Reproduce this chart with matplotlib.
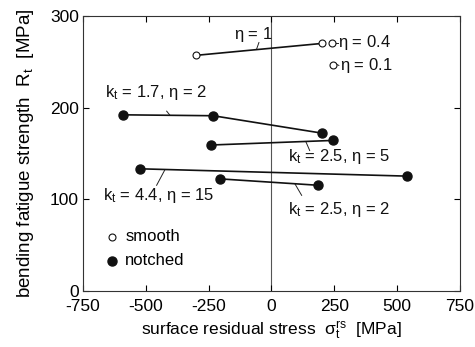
import numpy as np
import matplotlib
matplotlib.use("Agg")
import matplotlib.pyplot as plt

plt.rcParams['font.family'] = ['Liberation Sans', 'DejaVu Sans']
plt.rcParams['mathtext.default'] = 'regular'
plt.rcParams['axes.unicode_minus'] = False

# smooth specimens (open circles)
eta1_x = [-300, 200]
eta1_y = [257, 270]
eta04_x = [240]
eta04_y = [270]
eta01_x = [243]
eta01_y = [246]

# notched specimens (filled circles)
k17_x = [-590, -232, 200]
k17_y = [192, 191, 172]
k25e5_x = [-241, 243]
k25e5_y = [159, 164]
k44_x = [-523, 540]
k44_y = [133, 125]
k25e2_x = [-205, 186]
k25e2_y = [122, 115]

xticks = [-750, -500, -250, 0, 250, 500, 750]
yticks = [0, 100, 200, 300]

# label text, text anchor (left, centre), leader line x's and y's
labels = [
    (r'$\eta$ = 1', -148, 279.5, (-50, -59), (271, 264)),
    (r'$\eta$ = 0.4', 265, 270.5, (250, 263), (270, 270)),
    (r'$\eta$ = 0.1', 273, 245.5, (252, 268), (248, 246)),
    (r'k$_t$ = 1.7, $\eta$ = 2', -662, 216, (-417, -404), (196, 191.5)),
    (r'k$_t$ = 2.5, $\eta$ = 5', 64, 146.5, (137, 152), (162.5, 153)),
    (r'k$_t$ = 4.4, $\eta$ = 15', -672, 103.5, (-457, -424), (115, 132)),
    (r'k$_t$ = 2.5, $\eta$ = 2', 64, 88, (93, 120), (116.7, 104)),
]

fig = plt.figure(figsize=(4.75, 3.47), dpi=100)
ax = fig.add_axes([0.1747, 0.1628, 0.7937, 0.7911])

ax.axvline(0, color='#555555', lw=0.8, zorder=1)

lc = '#111111'
ax.plot(eta1_x, eta1_y, '-o', color=lc, lw=1.2, ms=5, mfc='white', mec=lc, mew=0.8, zorder=3)
ax.plot(eta04_x, eta04_y, 'o', ms=5, mfc='white', mec=lc, mew=0.8, zorder=3)
ax.plot(eta01_x, eta01_y, 'o', ms=5, mfc='white', mec=lc, mew=0.8, zorder=3)

for xs, ys in [(k17_x, k17_y), (k25e5_x, k25e5_y), (k44_x, k44_y), (k25e2_x, k25e2_y)]:
    ax.plot(xs, ys, '-o', color=lc, lw=1.2, ms=6.5, mfc=lc, mec=lc, zorder=3)

for txt, tx, ty, lx, ly in labels:
    ax.text(tx, ty, txt, fontsize=12, ha='left', va='center', color='#111111')
    ax.plot(lx, ly, color='#222222', lw=0.7)

# legend drawn by hand
ax.plot([-633], [59], 'o', ms=5, mfc='white', mec=lc, mew=0.8)
ax.plot([-633], [32.5], 'o', ms=6.5, mfc=lc, mec=lc)
ax.text(-582, 59, 'smooth', fontsize=12, va='center')
ax.text(-582, 32.5, 'notched', fontsize=12, va='center')

ax.set_xlim(-750, 750)
ax.set_ylim(0, 300)
ax.set_xticks(xticks)
ax.set_yticks(yticks)
ax.tick_params(direction='in', top=True, right=True, length=4, width=0.8, labelsize=12.5)
ax.tick_params(axis='x', pad=6)
ax.tick_params(axis='y', pad=3)
for s in ax.spines.values():
    s.set_linewidth(0.8)
    s.set_color('#333333')

ax.set_xlabel(r'surface residual stress  $\sigma_t^{rs}$  [MPa]', fontsize=12.5, labelpad=4)
ax.set_ylabel(r'bending fatigue strength  R$_t$  [MPa]', fontsize=13.5, labelpad=10)

fig.savefig('out.png', dpi=100)
